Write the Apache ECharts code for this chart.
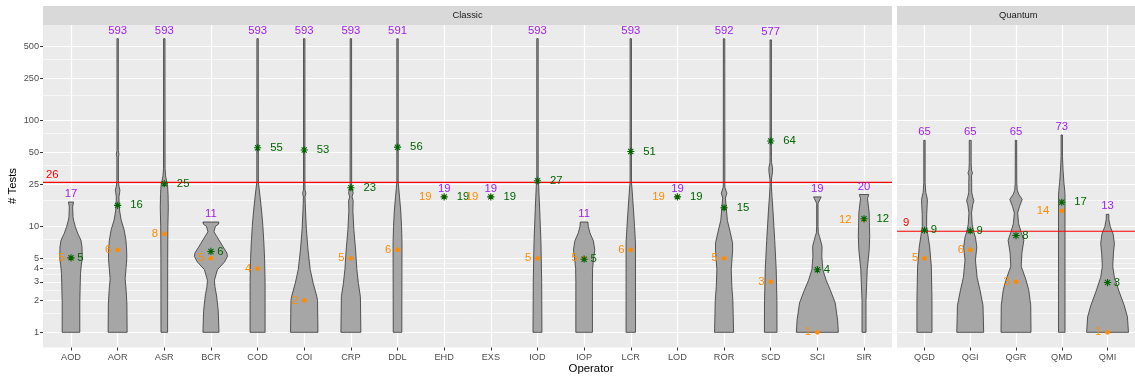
<!DOCTYPE html>
<html><head><meta charset="utf-8">
<script src="https://cdn.jsdelivr.net/npm/echarts@6/dist/echarts.min.js"></script>
<style>html,body{margin:0;padding:0;background:#fff}#c{width:1135px;height:379px}</style>
</head><body><div id="c"></div>
<script>
// ---------- data ----------
const classicOps = ['AOD','AOR','ASR','BCR','COD','COI','CRP','DDL','EHD','EXS','IOD','IOP','LCR','LOD','ROR','SCD','SCI','SIR'];
const classicMax = [17,593,593,11,593,593,593,591,19,19,593,11,593,19,592,577,19,20];
const classicMedian = [5,6,8.5,5,4,2,5,6,19,19,5,5,6,19,5,3,1,11.6];
const classicMean = [5.05,15.8,25.3,5.8,55.3,52.7,23.2,56,19,19,27,4.9,51,19,15,64,3.9,11.8];

const quantumOps = ['QGD','QGI','QGR','QMD','QMI'];
const quantumMax = [65,65,65,73,13];
const quantumMedian = [5,6,3,14,1];
const quantumMean = [9.2,9.1,8.2,16.9,2.95];

const thresholdClassic = 26;
const thresholdQuantum = 9;

const yMajorTicks = [1,2,3,4,5,10,25,50,100,250,500];
const yMinorTicks = [1.5,2.5,3.5,4.5,7.5,17.5,37.5,75,175,375];

// violin outlines: [value, half-width in % of category spacing]
const vAOD = [[1,18.9],[1.9,18.9],[2.7,19.7],[3.6,20.4],[4.3,22.1],[5,24.2],[6.4,23.6],[7.4,21.4],[8.6,14.4],[10,9.2],[11.5,5.4],[12.4,4.3],[15.3,3.6],[17,5.4]];
const vAOR = [[1,20.4],[1.85,19.9],[2.5,18.2],[3.2,16.1],[4.1,18.2],[5,19.7],[6,19.3],[7.4,17.8],[9.3,13.9],[11.5,7.5],[14,4.3],[16,3.4],[19,2.8],[21,4.3],[22,4.9],[24,2.8],[27,1.7],[45,1.7],[48,2.8],[52,1.5],[593,1.5]];
const vASR = [[1,7.1],[5,7.3],[10,7.7],[15,8.6],[20,8.1],[24,7.1],[27,4.9],[30,2.8],[35,1.7],[593,1.5]];
const vBCR = [[1,17.2],[1.6,15.7],[2.2,12.2],[2.7,8.6],[3.1,7.5],[3.9,13.9],[4.6,28.9],[5.2,35.4],[5.6,34.3],[6.45,25.7],[8,12.9],[8.9,6.4],[10,9.6],[10.5,16.1],[11,17.2]];
const vCOD = [[1,16.1],[3,16.1],[5,15.0],[7,13.5],[10,11.4],[14,8.6],[19,5.4],[23,3.2],[26,1.7],[593,1.5]];
const vCOI = [[1,29.4],[2,28.5],[2.2,26.8],[2.9,19.3],[3.9,12.9],[6,8.1],[9.3,4.7],[14,2.8],[19,1.7],[20.5,3.6],[22,1.7],[26,1.5],[593,1.5]];
const vCRP = [[1,21.4],[2.17,20.4],[2.9,16.1],[3.9,12.9],[6,10.1],[9.3,6.4],[14,4.3],[17.5,4.9],[19,2.6],[20.8,4.9],[22.5,2.6],[24,1.7],[593,1.5]];
const vDDL = [[1,9.2],[7,9.6],[10,8.6],[14,6.9],[19,4.3],[23,2.6],[26,1.5],[591,1.5]];
const vEHD = [];
const vEXS = [];
const vIOD = [[1,9.6],[3,9.0],[7,7.5],[14,4.9],[19,3.6],[24,2.6],[28,1.5],[593,1.5]];
const vIOP = [[1,17.8],[3,17.8],[4,18.2],[5,20.4],[6,22.9],[7.3,19.9],[8.7,12.4],[10,9.0],[11,8.1]];
const vLCR = [[1,10.1],[7,10.1],[10,8.1],[14,6.0],[19,3.9],[23,2.6],[26,1.5],[593,1.5]];
const vLOD = [];
const vROR = [[1,20.4],[2,18.9],[2.7,16.7],[3.9,15.4],[5,17.2],[6,18.4],[7,18.2],[8.7,13.5],[11.4,7.1],[15,4.7],[18.5,3.0],[20.6,6.0],[23.5,1.7],[592,1.5]];
const vSCD = [[1,13.5],[2,13.3],[3.9,11.8],[7.4,8.6],[14,4.9],[19,2.8],[24,1.5],[28,1.7],[33,3.9],[36,3.9],[40,1.7],[45,1.5],[577,1.5]];
const vSCI = [[1,45.0],[1.3,43.5],[1.9,38.2],[2.5,27.9],[3.1,18.9],[3.9,11.8],[5.2,9.6],[6.5,10.1],[8,4.7],[8.7,2.1],[10,1.5],[16.5,1.5],[19,8.1]];
const vSIR = [[1,4.3],[2,4.3],[3.9,6.9],[6,11.1],[8,12.2],[13.4,11.1],[18.3,7.5],[20,10.1]];
const vQGD = [[1,16.5],[2,16.5],[4.2,15.0],[6.4,11.4],[8.5,7.1],[10,4.7],[13,4.9],[16,6.0],[18,6.4],[21,2.8],[26,1.5],[65,1.5]];
const vQGI = [[1,29.4],[1.8,27.9],[2.5,21.4],[3.3,15.0],[4.8,11.4],[6.4,14.4],[7.9,11.4],[8.9,7.5],[10.5,4.3],[13.4,2.8],[16,5.4],[17.5,7.9],[19,5.4],[21,3.2],[26,3.2],[30,2.8],[32,4.9],[34,2.8],[40,2.1],[65,2.1]];
const vQGR = [[1,32.8],[1.8,32.2],[2.5,27.9],[3.1,22.1],[4.2,11.4],[5.6,12.9],[7.4,17.2],[8.8,11.4],[10.6,5.8],[13.4,3.6],[15.5,7.9],[18,13.5],[20.2,5.8],[22,2.8],[26,1.7],[65,1.5]];
const vQMD = [[1,7.1],[20,7.1],[22,6.4],[26,4.7],[34,2.8],[46,1.5],[73,1.5]];
const vQMI = [[1,45.7],[1.4,43.5],[1.8,36.4],[2.4,25.7],[3.3,15.0],[4.2,11.4],[5.6,12.9],[6.9,15.0],[8.5,12.2],[10,5.8],[11.7,2.8],[13,2.8]];

const classicShapes = [vAOD,vAOR,vASR,vBCR,vCOD,vCOI,vCRP,vDDL,vEHD,vEXS,vIOD,vIOP,vLCR,vLOD,vROR,vSCD,vSCI,vSIR];
const quantumShapes = [vQGD,vQGI,vQGR,vQMD,vQMI];

// ---------- layout / style ----------
const FONT = '"Liberation Sans", Arial, Helvetica, sans-serif';
const LBL = 11.3;
const lg = Math.log10;
const Y_MIN = -0.1434, Y_MAX = 2.9018;
const C_PURPLE = '#A020F0', C_ORANGE = '#FF8C00', C_GREEN = '#006400';

function rHalfEven(v){ const f=Math.floor(v); const d=v-f; if (Math.abs(d-0.5)<1e-9) return (f%2===0)?f:f+1; return Math.round(v); }
function textW(s){ return s.length*0.556*LBL; }

function violinRender(shapes){
  return function(params, api){
    const i = api.value(0);
    const prof = shapes[i];
    if (!prof || prof.length < 2) return null;
    const right = prof.map(p => api.coord([i + p[1]/100, lg(p[0])]));
    const left = prof.slice().reverse().map(p => api.coord([i - p[1]/100, lg(p[0])]));
    return {type:'polygon', shape:{points:right.concat(left)},
      style:{fill:'#A6A6A6', stroke:'#333333', lineWidth:0.8}};
  };
}
function summaryRender(maxA, medA, meanA){
  return function(params, api){
    const i = api.value(0);
    const pMed = api.coord([i, lg(medA[i])]);
    const pMean = api.coord([i, lg(meanA[i])]);
    const pMax = api.coord([i, lg(maxA[i])]);
    const r = 3.6, d = r*0.72;
    const medTxt = String(rHalfEven(medA[i]));
    const meanTxt = String(rHalfEven(meanA[i]));
    const maxTxt = String(maxA[i]);
    return {type:'group', children:[
      {type:'circle', shape:{cx:pMed[0], cy:pMed[1], r:2.4}, style:{fill:C_ORANGE}},
      {type:'path', shape:{pathData:
        `M${pMean[0]},${pMean[1]-r}L${pMean[0]},${pMean[1]+r}`+
        `M${pMean[0]-r},${pMean[1]}L${pMean[0]+r},${pMean[1]}`+
        `M${pMean[0]-d},${pMean[1]-d}L${pMean[0]+d},${pMean[1]+d}`+
        `M${pMean[0]-d},${pMean[1]+d}L${pMean[0]+d},${pMean[1]-d}`},
        style:{stroke:C_GREEN, lineWidth:1.1, fill:null}},
      {type:'text', x:pMed[0]-1.5*textW(medTxt), y:pMed[1],
        style:{text:medTxt, fill:C_ORANGE, font:`${LBL}px ${FONT}`, align:'center', verticalAlign:'middle'}},
      {type:'text', x:pMean[0]+1.5*textW(meanTxt), y:pMean[1],
        style:{text:meanTxt, fill:C_GREEN, font:`${LBL}px ${FONT}`, align:'center', verticalAlign:'middle'}},
      {type:'text', x:pMax[0], y:pMax[1]-8,
        style:{text:maxTxt, fill:C_PURPLE, font:`${LBL}px ${FONT}`, align:'center', verticalAlign:'middle'}}
    ]};
  };
}
function thresholdRender(xMax){
  return function(params, api){
    const v = api.value(0);
    const a = api.coord([-0.6, lg(v)]);
    const b = api.coord([xMax, lg(v)]);
    const t = api.coord([-0.4, lg(v)]);
    return {type:'group', children:[
      {type:'line', shape:{x1:a[0], y1:a[1], x2:b[0], y2:b[1]}, style:{stroke:'#FF0000', lineWidth:1.2}},
      {type:'text', x:t[0], y:t[1]-8, style:{text:String(v), fill:'#FF0000', font:`${LBL}px ${FONT}`, align:'center', verticalAlign:'middle'}}
    ]};
  };
}

function xAxisFor(gridIndex, ops){
  const idx = ops.map((_, i) => i);
  return {type:'value', gridIndex, min:-0.6, max:ops.length-0.4, position:'bottom',
    axisLine:{show:false, onZero:false},
    axisTick:{show:true, length:3, customValues:idx, lineStyle:{color:'#333333', width:1}},
    axisLabel:{customValues:idx, formatter:v => ops[Math.round(v)], color:'#4D4D4D', fontSize:9.2, fontFamily:FONT, margin:5},
    splitLine:{show:true, lineStyle:{color:'#FFFFFF', width:1.2}}};
}
function yAxisMajor(gridIndex, showLabels){
  const vals = yMajorTicks.map(lg);
  return {type:'value', gridIndex, min:Y_MIN, max:Y_MAX, position:'left',
    axisLine:{show:false, onZero:false},
    axisTick:{show:showLabels, length:3, customValues:vals, lineStyle:{color:'#333333', width:1}},
    axisLabel:{show:showLabels, customValues:vals, formatter:v => String(Math.round(Math.pow(10, v))), color:'#4D4D4D', fontSize:9.2, fontFamily:FONT, margin:4},
    splitLine:{show:true, lineStyle:{color:'#FFFFFF', width:1.2}}};
}
function yAxisMinor(gridIndex){
  const vals = yMinorTicks.map(lg);
  return {type:'value', gridIndex, min:Y_MIN, max:Y_MAX, position:'right',
    axisLine:{show:false, onZero:false},
    axisTick:{show:false, customValues:vals},
    axisLabel:{show:false, customValues:vals},
    splitLine:{show:true, lineStyle:{color:'#FFFFFF', width:0.6}}};
}

const option = {
  animation:false,
  backgroundColor:'#FFFFFF',
  grid:[
    {left:43, top:25, width:849, height:322.5, show:true, backgroundColor:'#EBEBEB', borderWidth:0},
    {left:897, top:25, width:242.6, height:322.5, show:true, backgroundColor:'#EBEBEB', borderWidth:0}
  ],
  xAxis:[xAxisFor(0, classicOps), xAxisFor(1, quantumOps)],
  yAxis:[yAxisMajor(0, true), yAxisMinor(0), yAxisMajor(1, false), yAxisMinor(1)],
  series:[
    {type:'custom', xAxisIndex:0, yAxisIndex:0, clip:true, z:2, renderItem:violinRender(classicShapes),
      data:classicOps.map((_, i) => [i, lg(classicMax[i])])},
    {type:'custom', xAxisIndex:0, yAxisIndex:0, clip:true, z:3, renderItem:thresholdRender(classicOps.length-0.4),
      data:[[thresholdClassic]]},
    {type:'custom', xAxisIndex:0, yAxisIndex:0, clip:false, z:4, renderItem:summaryRender(classicMax, classicMedian, classicMean),
      data:classicOps.map((_, i) => [i, lg(classicMean[i])])},
    {type:'custom', xAxisIndex:1, yAxisIndex:2, clip:true, z:2, renderItem:violinRender(quantumShapes),
      data:quantumOps.map((_, i) => [i, lg(quantumMax[i])])},
    {type:'custom', xAxisIndex:1, yAxisIndex:2, clip:true, z:3, renderItem:thresholdRender(quantumOps.length-0.4),
      data:[[thresholdQuantum]]},
    {type:'custom', xAxisIndex:1, yAxisIndex:2, clip:false, z:4, renderItem:summaryRender(quantumMax, quantumMedian, quantumMean),
      data:quantumOps.map((_, i) => [i, lg(quantumMean[i])])}
  ],
  graphic:[
    {type:'rect', left:43, top:6, shape:{width:849, height:19}, style:{fill:'#D9D9D9'}},
    {type:'rect', left:897, top:6, shape:{width:242.6, height:19}, style:{fill:'#D9D9D9'}},
    {type:'text', x:467.5, y:15.5, style:{text:'Classic', fill:'#1A1A1A', font:`9.4px ${FONT}`, align:'center', verticalAlign:'middle'}},
    {type:'text', x:1018.3, y:15.5, style:{text:'Quantum', fill:'#1A1A1A', font:`9.4px ${FONT}`, align:'center', verticalAlign:'middle'}},
    {type:'text', x:591, y:369, style:{text:'Operator', fill:'#000000', font:`11.4px ${FONT}`, align:'center', verticalAlign:'middle'}},
    {type:'text', x:12.7, y:186, rotation:Math.PI/2, style:{text:'# Tests', fill:'#000000', font:`11.4px ${FONT}`, align:'center', verticalAlign:'middle'}}
  ]
};
const chart = echarts.init(document.getElementById('c'), null, {renderer:'canvas'});
chart.setOption(option);
</script></body></html>
